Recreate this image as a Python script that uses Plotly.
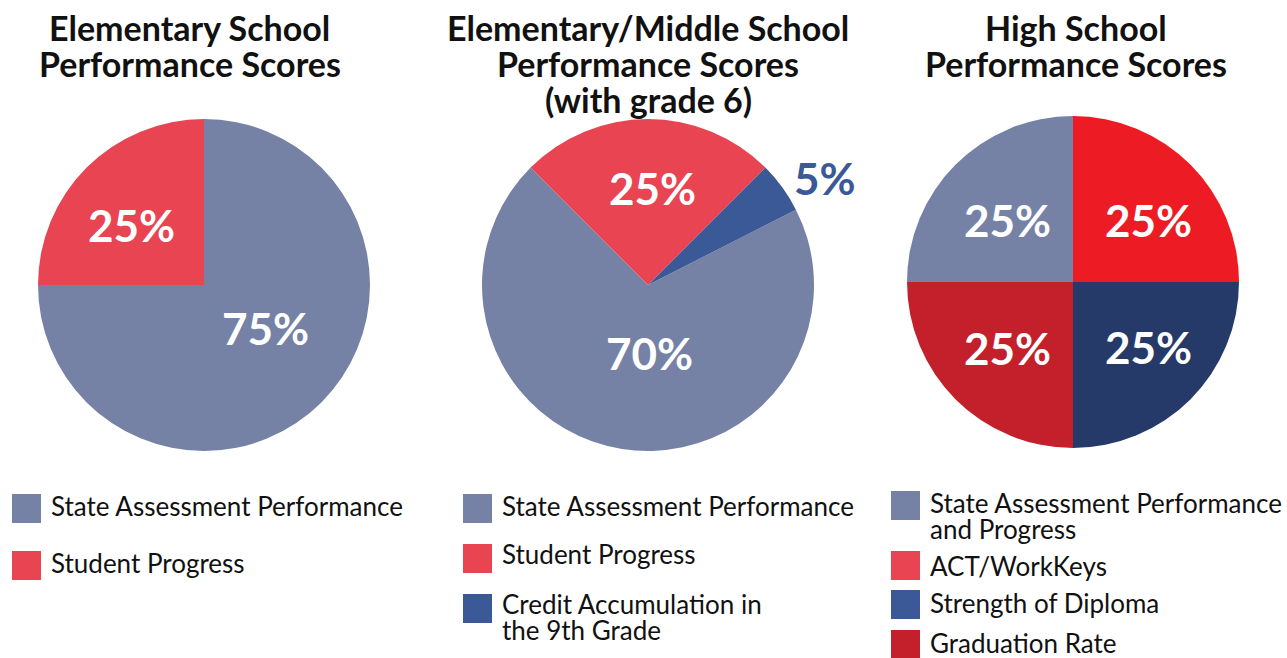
import plotly.graph_objects as go

W, H = 1287, 658

# ---- data -------------------------------------------------------------
elem_labels = ["State Assessment Performance", "Student Progress"]
elem_values = [75, 25]

mid_labels = ["State Assessment Performance", "Student Progress",
              "Credit Accumulation in\nthe 9th Grade"]
mid_values = [70, 25, 5]

high_labels = ["State Assessment Performance\nand Progress", "ACT/WorkKeys",
               "Strength of Diploma", "Graduation Rate"]
high_values = [25, 25, 25, 25]

elem_title = ["Elementary School", "Performance Scores"]
mid_title = ["Elementary/Middle School", "Performance Scores", "(with grade 6)"]
high_title = ["High School", "Performance Scores"]

# ---- styles -----------------------------------------------------------
GRAY = "#7582A6"
PINK = "#E84452"
BLUE = "#3B5996"
RED = "#ED1C24"
NAVY = "#263A69"
CRIMSON = "#C3202B"

elem_colors = [GRAY, PINK]
mid_colors = [GRAY, PINK, BLUE]
high_colors = [GRAY, RED, NAVY, CRIMSON]
high_legend_colors = [GRAY, PINK, BLUE, CRIMSON]

R = 166  # pie radius in px

def px_x(x):
    return x / W

def px_y(y):
    return 1 - y / H

def domain(cx, cy):
    return dict(x=[px_x(cx - R), px_x(cx + R)],
                y=[px_y(cy + R), px_y(cy - R)])

pies = [
    dict(center=(204, 285), labels=elem_labels, values=elem_values,
         colors=elem_colors, rotation=0,
         offsets=[(61, 43), (-73, -60)], text_colors=["white", "white"]),
    dict(center=(648, 285), labels=mid_labels, values=mid_values,
         colors=mid_colors, rotation=63,
         offsets=[(1, 68), (4, -97), (177, -107)],
         text_colors=["white", "white", BLUE]),
    dict(center=(1073, 282), labels=high_labels, values=high_values,
         colors=high_colors, rotation=-90,
         offsets=[(-66, -62), (75, -62), (75, 65), (-66, 66)],
         text_colors=["white"] * 4),
]

fig = go.Figure()
annotations = []
shapes = []

for p in pies:
    cx, cy = p["center"]
    fig.add_trace(go.Pie(
        labels=[s.replace("\n", " ") for s in p["labels"]],
        values=p["values"], sort=False,
        direction="clockwise", rotation=p["rotation"],
        marker=dict(colors=p["colors"], line=dict(width=0)),
        textinfo="none", hoverinfo="label+percent", showlegend=False,
        domain=domain(cx, cy),
    ))
    for v, (dx, dy), tc in zip(p["values"], p["offsets"], p["text_colors"]):
        annotations.append(dict(
            x=px_x(cx + dx), y=px_y(cy + dy), xref="paper", yref="paper",
            text=f"{v}%", showarrow=False, xanchor="center", yanchor="middle",
            font=dict(family="Lato", size=44, color=tc, weight="bold"),
        ))

# ---- titles -----------------------------------------------------------
title_specs = [(elem_title, 190), (mid_title, 648), (high_title, 1076)]
for lines, cx in title_specs:
    for i, line in enumerate(lines):
        annotations.append(dict(
            x=px_x(cx), y=px_y(28 + 35.5 * i), xref="paper", yref="paper",
            text=line, showarrow=False, xanchor="center", yanchor="middle",
            font=dict(family="Lato", size=34, color="#111111", weight="bold"),
        ))

# ---- legends ----------------------------------------------------------
# (left x, labels, colours, square tops, first text line centres)
legend_specs = [
    (12, elem_labels, elem_colors, [494, 551], [506, 563]),
    (463, mid_labels, mid_colors, [494, 544, 594], [506, 554, 604]),
    (891, high_labels, high_legend_colors, [491, 551, 590, 630],
     [503, 566, 603, 643]),
]
SQ = 29
LINE = 25.5
for x0, labels, colors, tops, mids in legend_specs:
    for lab, col, top, mid in zip(labels, colors, tops, mids):
        shapes.append(dict(
            type="rect", xref="paper", yref="paper",
            x0=px_x(x0), x1=px_x(x0 + SQ), y0=px_y(top + SQ), y1=px_y(top),
            fillcolor=col, line=dict(width=0),
        ))
        for j, part in enumerate(lab.split("\n")):
            annotations.append(dict(
                x=px_x(x0 + SQ + 8), y=px_y(mid + LINE * j),
                xref="paper", yref="paper",
                text=part, showarrow=False, xanchor="left", yanchor="middle",
                font=dict(family="Lato", size=26, color="#111111"),
            ))

fig.update_layout(
    width=W, height=H,
    margin=dict(l=0, r=0, t=0, b=0),
    paper_bgcolor="white", plot_bgcolor="white",
    annotations=annotations, shapes=shapes,
)

fig.write_html("out.html")
